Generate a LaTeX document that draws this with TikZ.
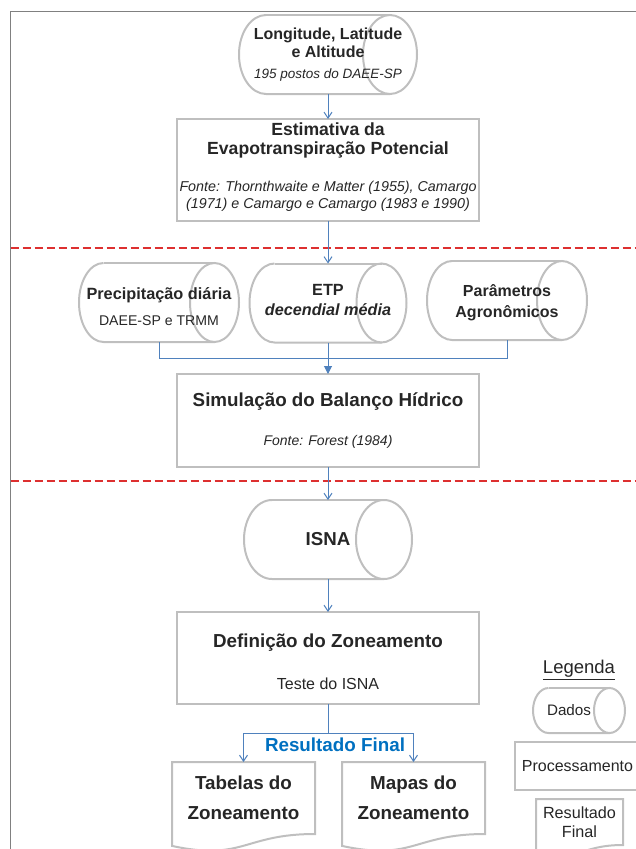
\documentclass[tikz,border=0pt]{standalone}
\usepackage{fontspec}
\setmainfont{Liberation Sans}
\usetikzlibrary{calc, arrows.meta, backgrounds}
\definecolor{tx}{HTML}{262626}
\definecolor{ln}{HTML}{4F81BD}
\definecolor{bd}{HTML}{BFBFBF}
\definecolor{rd}{RGB}{221,48,48}
\definecolor{fr}{HTML}{808080}
\definecolor{res}{HTML}{0070C0}
\newcommand{\fsz}[2]{\fontsize{#1}{#2}\selectfont}
\tikzset{
    flow/.style={ln, line width=1pt, -{Straight Barb[length=6pt,width=8pt]}},
    flowfill/.style={ln, line width=1pt, -{Triangle[length=8pt,width=8pt]}},
    linkline/.style={ln, line width=1pt},
    sepline/.style={rd, line width=1.2pt, dash pattern=on 8pt off 4pt},
    rim/.style={bd, line width=2pt},
    datum/.style={align=center, text=tx, inner sep=0pt, outer sep=0pt},
    procbox/.style={draw=bd, line width=2pt, align=center, text=tx, inner sep=0pt, outer sep=0pt, minimum width=302pt},
    docbox/.style={align=center, text=tx, inner sep=0pt, outer sep=0pt}
}

\begin{document}
\begin{tikzpicture}[x=1pt, y=1pt]
    \useasboundingbox (0,0) rectangle (635,-849);
    % moldura e divisoes
    \draw[fr, line width=1.2pt] (10.7,-870) -- (10.7,-11.7) -- (660,-11.7);
    \draw[sepline] (10.7,-248) -- (640,-248);
    \draw[sepline] (10.7,-481) -- (640,-481);
    % entradas
    \node[datum, minimum width=178pt, minimum height=79pt, font=\fsz{16}{18}\bfseries] (geo) at (328,-54.5) {Longitude, Latitude\\e Altitude\\[3pt]{\fsz{13.5}{16}\mdseries\itshape 195 postos do DAEE-SP}};
    \node[procbox, minimum height=102pt, font=\fsz{17.6}{19}\bfseries] (etpcalc) at (328,-170) {Estimativa da\\Evapotranspiração Potencial\\[18pt]{\fsz{14.3}{17}\mdseries\itshape Fonte: Thornthwaite e Matter (1955), Camargo}\\[-2pt]{\fsz{14.3}{17}\mdseries\itshape (1971) e Camargo e Camargo (1983 e 1990)\rule[-9pt]{0pt}{0pt}}};
    \node[datum, minimum width=160pt, minimum height=79pt, font=\fsz{16.3}{18}\bfseries] (prec) at (159,-302.5) {\rule{0pt}{20pt}Precipitação diária\\[8pt]{\fsz{14.1}{16}\mdseries DAEE-SP e TRMM}};
    \node[datum, minimum width=157pt, minimum height=79pt, font=\fsz{16.2}{18}\bfseries] (etp) at (328,-303) {ETP\\[2pt]{\itshape decendial média\rule[-7pt]{0pt}{0pt}}};
    \node[datum, minimum width=160pt, minimum height=79pt, font=\fsz{16}{18}\bfseries] (agro) at (507,-300.5) {\rule{0pt}{16pt}Parâmetros\\[3pt]Agronômicos};
    % balanco hidrico
    \node[procbox, minimum height=93pt, font=\fsz{18.8}{20}\bfseries] (balanco) at (328,-420.5) {Simulação do Balanço Hídrico\\[19pt]{\fsz{14}{16}\mdseries\itshape Fonte: Forest (1984)}};
    \node[datum, minimum width=168pt, minimum height=79pt, font=\fsz{18.7}{20}\bfseries] (isna) at (328,-539.5) {ISNA};
    \node[procbox, minimum height=92pt, font=\fsz{18.8}{20}\bfseries] (zonas) at (328,-658) {\rule{0pt}{22pt}Definição do Zoneamento\\[22pt]{\fsz{16}{18}\mdseries Teste do ISNA}};
    % resultado final
    \node[docbox, minimum width=143pt, minimum height=72pt, font=\fsz{18.8}{20}\bfseries] (tab) at (243.5,-798) {Tabelas do\\[10pt]Zoneamento};
    \node[docbox, minimum width=143pt, minimum height=72pt, font=\fsz{18.8}{20}\bfseries] (mapas) at (413.5,-798) {Mapas do\\[10pt]Zoneamento};
    \node[text=res, font=\fsz{18.8}{20}\bfseries] (resfinal) at (335,-745) {Resultado Final};
    % legenda
    \node[text=tx, font=\fsz{18.5}{20}] (legenda) at (579,-670) {\underline{Legenda}};
    \node[datum, minimum width=92pt, minimum height=45pt, font=\fsz{15.2}{17}] (dados) at (579,-710.5) {Dados\hspace*{20pt}};
    \node[procbox, minimum width=125pt, minimum height=48pt, font=\fsz{16}{18}] (proc) at (577.5,-766) {Processamento};
    \node[docbox, minimum width=87pt, minimum height=46pt, font=\fsz{16.2}{19}] (final) at (579.5,-822) {Resultado\\Final};
    \begin{scope}[on background layer]
        % cilindros
        \foreach \n/\r/\h in {geo/27/39.5, prec/24.5/39.5, etp/25/39.5, agro/25/39.5, isna/28/39.5, dados/15.5/22.5}{
            \draw[rim] ($(\n.north west)+(\r,0)$) arc[start angle=90, end angle=270, x radius=\r, y radius=\h] -- ($(\n.south east)+(-\r,0)$);
            \draw[rim] ($(\n.north west)+(\r,0)$) -- ($(\n.north east)+(-\r,0)$);
            \draw[rim] ($(\n.east)+(-\r,0)$) ellipse[x radius=\r, y radius=\h];
        }
        % documentos
        \foreach \n/\d/\c in {tab/11.9/27.4, mapas/11.9/27.4, final/7.6/17.5}{
            \draw[rim] ($(\n.south west)+(0,-\d)$) -- (\n.north west) -- (\n.north east) -- (\n.south east) .. controls (\n.south) and ($(\n.south)+(0,-\c)$) .. ($(\n.south west)+(0,-\d)$) -- cycle;
        }
    \end{scope}
    % ligacoes
    \draw[flow] (geo) -- (etpcalc);
    \draw[flow] (etpcalc) -- (etp);
    \draw[linkline] (prec.south) -- ++(0,-16.5) -| (agro.south);
    \draw[flowfill] (etp) -- (balanco);
    \draw[flow] (balanco) -- (isna);
    \draw[flow] (isna) -- (zonas);
    \coordinate (split) at (328,-733);
    \draw[linkline] (zonas) -- (split);
    \draw[flow] (split) -| (tab);
    \draw[flow] (split) -| (mapas);
\end{tikzpicture}
\end{document}
